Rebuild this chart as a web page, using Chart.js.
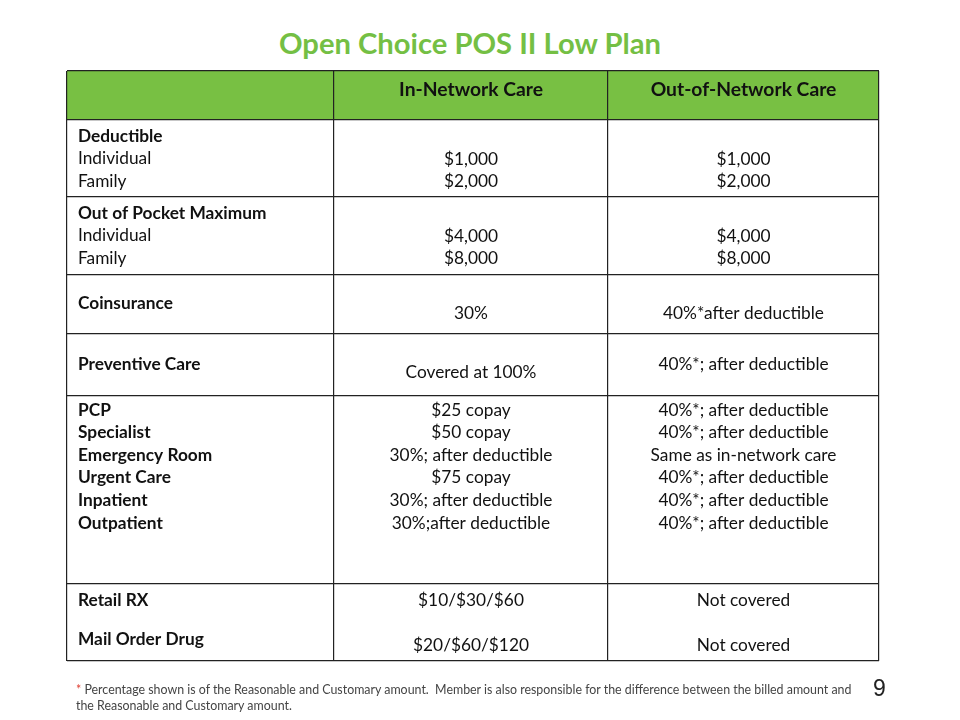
<!DOCTYPE html>
<html>
<head>
  <title>Open Choice POS II Low Plan</title>
<script src="https://cdn.jsdelivr.net/npm/chart.js"></script>
</head>
<style>
body {
  margin: 0;
  background: #fff;
  font-family: Lato, "Open Sans", sans-serif;
}
#page {
  position: relative;
  width: 960px;
  height: 720px;
  overflow: hidden;
}
#title {
  position: absolute;
  left: 0;
  top: 25px;
  width: 940px;
  text-align: center;
  color: #74bf44;
  font-weight: bold;
  font-size: 29.2px;
}
#table {
  position: absolute;
  left: 0;
  top: 0;
}
#note {
  position: absolute;
  left: 76px;
  top: 682px;
  font-size: 12.4px;
  line-height: 16px;
  color: #444;
  white-space: nowrap;
}
#note span {
  color: #e0463a;
}
#slide-no {
  position: absolute;
  left: 873px;
  top: 675px;
  font-family: "Liberation Sans", Arial, sans-serif;
  font-size: 23px;
  color: #222;
}
</style>
<body>
<div id="page">
  <div id="title">Open Choice POS II Low Plan</div>
  <canvas id="table" width="960" height="720"></canvas>
  <div id="note"><span>*</span> Percentage shown is of the Reasonable and Customary amount.&nbsp; Member is also responsible for the difference between the billed amount and<br>the Reasonable and Customary amount.</div>
  <div id="slide-no">9</div>
</div>
</body>
<script>
// table content
const columnHeads = ["", "In-Network Care", "Out-of-Network Care"];
const rowHeads = [
  ["Deductible"],
  ["Out of Pocket Maximum"],
  ["Coinsurance"],
  ["Preventive Care"],
  ["PCP", "Specialist", "Emergency Room", "Urgent Care", "Inpatient", "Outpatient"],
  ["Retail RX", "Mail Order Drug"]
];
const rowSubs = [
  ["Individual", "Family"],
  ["Individual", "Family"],
  [], [], [], []
];
const inNetwork = [
  ["$1,000", "$2,000"],
  ["$4,000", "$8,000"],
  ["30%"],
  ["Covered at 100%"],
  ["$25 copay", "$50 copay", "30%; after deductible", "$75 copay", "30%; after deductible", "30%;after deductible"],
  ["$10/$30/$60", "$20/$60/$120"]
];
const outNetwork = [
  ["$1,000", "$2,000"],
  ["$4,000", "$8,000"],
  ["40%*after deductible"],
  ["40%*; after deductible"],
  ["40%*; after deductible", "40%*; after deductible", "Same as in-network care",
   "40%*; after deductible", "40%*; after deductible", "40%*; after deductible"],
  ["Not covered", "Not covered"]
];

// layout (scale units = px)
const colWidths = [267, 274, 271];
const rowHeights = [49, 77, 78, 59, 62, 188, 77]; // header first
const textTop = [[16, 39, 39], [16, 39, 39], [28, 38, 38], [30, 38, 30], [14, 14, 14], [16, 16, 16]];
const lineGap = [[22.5, 22.5, 22.5], [22.5, 22.5, 22.5], [0, 0, 0], [0, 0, 0], [22.6, 22.6, 22.6], [39, 45, 45]];

const colEdges = [0];
colWidths.forEach(w => colEdges.push(colEdges[colEdges.length - 1] + w));
const rowEdges = [0];
rowHeights.forEach(h => rowEdges.push(rowEdges[rowEdges.length - 1] + h));

const FONT = 'Lato, "Open Sans", sans-serif';
const BODY = '17.3px ' + FONT;
const BOLD = 'bold 17.3px ' + FONT;
const HEAD = 'bold 19.3px ' + FONT;

const tablePlugin = {
  id: 'tableText',
  beforeDraw(chart) {
    const { ctx, scales: { x, y } } = chart;
    // green header band
    ctx.save();
    ctx.fillStyle = '#78c043';
    ctx.fillRect(x.getPixelForValue(0), y.getPixelForValue(0),
      x.getPixelForValue(colEdges[3]) - x.getPixelForValue(0),
      y.getPixelForValue(rowEdges[1]) - y.getPixelForValue(0));
    ctx.restore();
  },
  afterDraw(chart) {
    const { ctx, scales: { x, y } } = chart;
    ctx.save();
    ctx.fillStyle = '#111';
    ctx.textBaseline = 'middle';

    // column heads
    ctx.font = HEAD;
    ctx.textAlign = 'center';
    for (let c = 1; c < 3; c++) {
      const cx = x.getPixelForValue((colEdges[c] + colEdges[c + 1]) / 2);
      ctx.fillText(columnHeads[c], cx, y.getPixelForValue(19));
    }

    for (let r = 0; r < rowHeads.length; r++) {
      const top = rowEdges[r + 1];
      // first column: bold heads then regular sub-lines
      ctx.textAlign = 'left';
      const lx = x.getPixelForValue(11);
      let i = 0;
      rowHeads[r].forEach(t => {
        ctx.font = BOLD;
        ctx.fillText(t, lx, y.getPixelForValue(top + textTop[r][0] + i * lineGap[r][0]));
        i++;
      });
      rowSubs[r].forEach(t => {
        ctx.font = BODY;
        ctx.fillText(t, lx, y.getPixelForValue(top + textTop[r][0] + i * lineGap[r][0]));
        i++;
      });

      // value columns
      ctx.textAlign = 'center';
      ctx.font = BODY;
      [inNetwork, outNetwork].forEach((col, k) => {
        const c = k + 1;
        const cx = x.getPixelForValue((colEdges[c] + colEdges[c + 1]) / 2);
        col[r].forEach((t, j) => {
          ctx.fillText(t, cx, y.getPixelForValue(top + textTop[r][c] + j * lineGap[r][c]));
        });
      });
    }
    ctx.restore();
  }
};

const chart = new Chart(document.getElementById('table'), {
  type: 'scatter',
  data: { datasets: [{ data: [] }] },
  options: {
    responsive: false,
    animation: false,
    events: [],
    layout: { padding: { left: 67, right: 81, top: 71, bottom: 59 } },
    plugins: { legend: { display: false }, tooltip: { enabled: false } },
    scales: {
      x: {
        type: 'linear',
        min: 0,
        max: colEdges[3],
        afterBuildTicks: axis => { axis.ticks = colEdges.map(v => ({ value: v })); },
        ticks: { display: false },
        grid: { color: '#222', lineWidth: 1.2, drawTicks: false },
        border: { display: false }
      },
      y: {
        type: 'linear',
        reverse: true,
        min: 0,
        max: rowEdges[rowEdges.length - 1],
        afterBuildTicks: axis => { axis.ticks = rowEdges.map(v => ({ value: v })); },
        ticks: { display: false },
        grid: { color: '#222', lineWidth: 1.2, drawTicks: false },
        border: { display: false }
      }
    }
  },
  plugins: [tablePlugin]
});
</script>
</html>
